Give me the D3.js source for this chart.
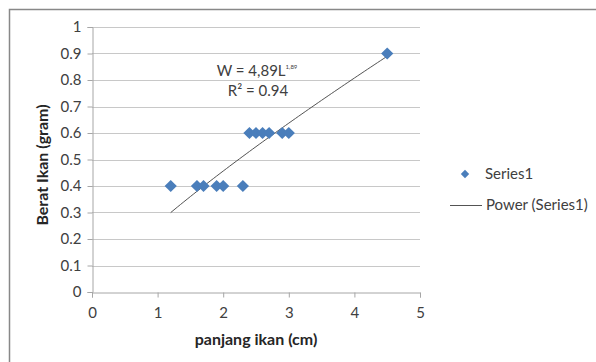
<!DOCTYPE html>
<html lang="en">
<head>
<meta charset="UTF-8">
<title>Berat vs panjang ikan</title>
<script src="https://d3js.org/d3.v7.min.js"></script>
<style>
  body { margin: 0; background: #fff; }
  svg { display: block; font-family: Lato, "Open Sans", sans-serif; }
</style>
</head>
<body>
<div id="chart"></div>
<script>
    // data
    const panjang = [1.2, 1.6, 1.7, 1.9, 2.0, 2.3, 2.4, 2.5, 2.6, 2.7, 2.9, 3.0, 4.5];
    const berat   = [0.4, 0.4, 0.4, 0.4, 0.4, 0.4, 0.6, 0.6, 0.6, 0.6, 0.6, 0.6, 0.9];
    const xTicks = [0, 1, 2, 3, 4, 5];
    const yTicks = [0, 0.1, 0.2, 0.3, 0.4, 0.5, 0.6, 0.7, 0.8, 0.9, 1];
    // power trendline y = a * x^b as drawn
    const trendA = 0.258, trendB = 0.823;
    const trendRange = [1.2, 4.5];

    const width = 596, height = 362;
    const svg = d3.select("#chart").append("svg")
        .attr("width", width)
        .attr("height", height);

    // chart frame (only top and left edges visible)
    svg.append("path")
        .attr("d", `M9.5,${height} V9.5 H${width}`)
        .attr("fill", "none")
        .attr("stroke", "#888")
        .attr("stroke-width", 1.5);

    const x = d3.scaleLinear().domain([0, 5]).range([92, 420]);
    const y = d3.scaleLinear().domain([0, 1]).range([292, 27]);

    // gridlines
    svg.append("g").selectAll("line")
        .data(yTicks.filter(d => d > 0))
        .join("line")
        .attr("x1", x(0)).attr("x2", x(5))
        .attr("y1", d => Math.round(y(d)) + 0.5).attr("y2", d => Math.round(y(d)) + 0.5)
        .attr("stroke", "#c8c8c8");

    // axes
    const yAxis = svg.append("g")
        .attr("transform", `translate(${x(0) + 0.5},0)`)
        .call(d3.axisLeft(y).tickValues(yTicks).tickFormat(d3.format("")).tickSize(5).tickPadding(6));
    const xAxis = svg.append("g")
        .attr("transform", `translate(0,${Math.round(y(0)) + 0.5})`)
        .call(d3.axisBottom(x).tickValues(xTicks).tickFormat(d3.format("d")).tickSize(5).tickPadding(10));
    [xAxis, yAxis].forEach(g => {
        g.select(".domain").attr("stroke", "#a6a6a6");
        g.selectAll(".tick line").attr("stroke", "#a6a6a6");
        g.selectAll(".tick text").attr("fill", "#404040").attr("font-size", 15)
            .attr("font-family", "Lato, 'Open Sans', sans-serif");
    });

    // trendline
    const trendPts = d3.range(trendRange[0], trendRange[1] + 0.001, 0.05)
        .map(v => [v, trendA * Math.pow(v, trendB)]);
    svg.append("path")
        .datum(trendPts)
        .attr("fill", "none")
        .attr("stroke", "#404040")
        .attr("stroke-width", 0.9)
        .attr("d", d3.line().x(d => x(d[0])).y(d => y(d[1])));

    // points
    const diamond = d3.symbol().type(d3.symbolDiamond2).size(95);
    svg.append("g").selectAll("path")
        .data(panjang.map((d, i) => [d, berat[i]]))
        .join("path")
        .attr("d", diamond)
        .attr("transform", d => `translate(${x(d[0])},${y(d[1])})`)
        .attr("fill", "#4a7ebb");

    // equation label
    const eq = svg.append("text")
        .attr("x", 257).attr("y", 76)
        .attr("text-anchor", "middle")
        .attr("font-size", 15).attr("fill", "#404040");
    eq.append("tspan").text("W = 4,89L");
    eq.append("tspan").attr("dy", -7).attr("font-size", 6).text("1,89");
    svg.append("text")
        .attr("x", 258).attr("y", 96)
        .attr("text-anchor", "middle")
        .attr("font-size", 15).attr("fill", "#404040")
        .text("R² = 0.94");

    // axis titles
    svg.append("text")
        .attr("x", 256).attr("y", 345)
        .attr("text-anchor", "middle")
        .attr("font-size", 16).attr("font-weight", "bold").attr("fill", "#262626")
        .text("panjang ikan (cm)");
    svg.append("text")
        .attr("transform", "translate(48,165) rotate(-90)")
        .attr("text-anchor", "middle")
        .attr("font-size", 16).attr("font-weight", "bold").attr("fill", "#262626")
        .text("Berat Ikan (gram)");

    // legend
    const legend = svg.append("g");
    legend.append("path")
        .attr("d", d3.symbol().type(d3.symbolDiamond2).size(45))
        .attr("transform", "translate(465,174)")
        .attr("fill", "#4a7ebb");
    legend.append("text")
        .attr("x", 485).attr("y", 179)
        .attr("font-size", 15).attr("fill", "#404040")
        .text("Series1");
    legend.append("line")
        .attr("x1", 450).attr("x2", 482)
        .attr("y1", 205.5).attr("y2", 205.5)
        .attr("stroke", "#404040").attr("stroke-width", 0.9);
    legend.append("text")
        .attr("x", 486).attr("y", 210)
        .attr("font-size", 15).attr("fill", "#404040")
        .text("Power (Series1)");
</script>
</body>
</html>
